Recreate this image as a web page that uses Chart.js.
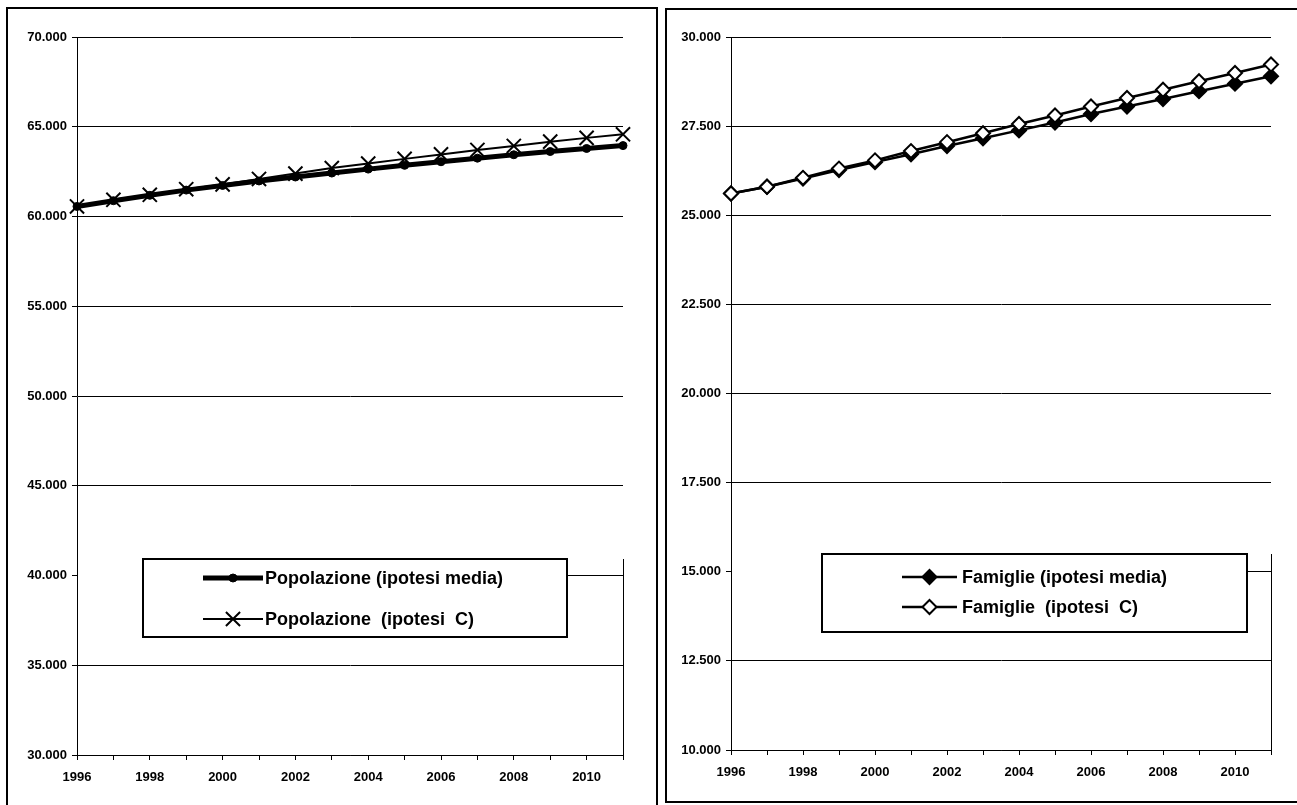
<!DOCTYPE html>
<html>
<head>
<meta charset="utf-8">
<script src="https://cdn.jsdelivr.net/npm/chart.js@4.4.1/dist/chart.umd.min.js"></script>
<style>
  body { margin: 0; background: #fff; overflow: hidden; }
  .panel { position: absolute; border: 2px solid #000; background: #fff; }
  #p1 { left: 6px; top: 7px; width: 648px; height: 800px; }
  #p2 { left: 665px; top: 8px; width: 640px; height: 791px; }
  canvas { display: block; }
</style>
</head>
<body>
<div class="panel" id="p1"><canvas id="c1" width="648" height="796"></canvas></div>
<div class="panel" id="p2"><canvas id="c2" width="630" height="791"></canvas></div>
<script>
// anni di proiezione
const years = ['1996','1997','1998','1999','2000','2001','2002','2003','2004','2005','2006','2007','2008','2009','2010','2011'];
const xTickLabels = ['1996','','1998','','2000','','2002','','2004','','2006','','2008','','2010',''];

// popolazione (migliaia)
const popLabelMedia = 'Popolazione (ipotesi media)';
const popLabelC = 'Popolazione  (ipotesi  C)';
const popMedia = [60560, 60880, 61180, 61470, 61730, 61980, 62200, 62420, 62640, 62850, 63050, 63250, 63440, 63620, 63790, 63950];
const popC = [60560, 60930, 61210, 61520, 61790, 62090, 62390, 62700, 62950, 63210, 63460, 63710, 63930, 64170, 64380, 64580];
const popMin = 30000, popMax = 70000, popStep = 5000;

// famiglie (migliaia)
const famLabelMedia = 'Famiglie (ipotesi media)';
const famLabelC = 'Famiglie  (ipotesi  C)';
const famMedia = [25610, 25800, 26030, 26270, 26490, 26710, 26940, 27160, 27380, 27600, 27840, 28050, 28260, 28480, 28690, 28900];
const famC = [25610, 25800, 26050, 26310, 26540, 26800, 27050, 27300, 27560, 27800, 28050, 28290, 28520, 28760, 28990, 29230];
const famMin = 10000, famMax = 30000, famStep = 2500;

Chart.defaults.font.family = 'Arial, "Liberation Sans", sans-serif';
Chart.defaults.color = '#000';

function fmt(v) {
  return String(v).replace(/\B(?=(\d{3})+(?!\d))/g, '.');
}

// legenda dentro il grafico, con riquadro bianco
const boxLegend = {
  id: 'boxLegend',
  afterDatasetsDraw(chart, args, opts) {
    const ctx = chart.ctx;
    const a = chart.chartArea;
    const b = opts.box;
    ctx.save();
    // nasconde la griglia a sinistra del riquadro
    ctx.fillStyle = '#fff';
    ctx.fillRect(a.left + 1, b.y, b.x - a.left - 1, b.h);
    // bordo destro dell'area del grafico
    ctx.strokeStyle = '#000';
    ctx.lineWidth = 1;
    ctx.beginPath();
    ctx.moveTo(Math.round(a.right) + 0.5, b.y);
    ctx.lineTo(Math.round(a.right) + 0.5, a.bottom);
    ctx.stroke();
    // riquadro
    ctx.fillStyle = '#fff';
    ctx.fillRect(b.x, b.y, b.w, b.h);
    ctx.lineWidth = 2;
    ctx.strokeRect(b.x, b.y, b.w, b.h);

    opts.rows.forEach((row, i) => {
      const ds = chart.data.datasets[i];
      ctx.strokeStyle = '#000';
      ctx.lineWidth = ds.borderWidth;
      ctx.beginPath();
      ctx.moveTo(opts.lineX1, row);
      ctx.lineTo(opts.lineX2, row);
      ctx.stroke();
      ctx.fillStyle = ds.pointBackgroundColor;
      ctx.strokeStyle = '#000';
      ctx.lineWidth = ds.pointBorderWidth;
      Chart.helpers.drawPoint(ctx, {
        pointStyle: ds.pointStyle, rotation: 0,
        radius: ds.pointRadius, borderWidth: ds.pointBorderWidth
      }, (opts.lineX1 + opts.lineX2) / 2, row);
      ctx.fillStyle = '#000';
      ctx.font = 'bold 18px Arial, "Liberation Sans", sans-serif';
      ctx.textAlign = 'left';
      ctx.textBaseline = 'middle';
      ctx.fillText(ds.label, opts.textX, row + 1);
    });
    ctx.restore();
  }
};

function makeScales(min, max, step, yWidth, xHeight) {
  return {
    x: {
      type: 'category',
      offset: false,
      grid: { offset: false, drawOnChartArea: false, color: '#000', tickLength: 5 },
      border: { display: true, color: '#000', width: 1 },
      ticks: {
        autoSkip: false, maxRotation: 0, padding: 10,
        font: { size: 13, weight: 'bold' },
        callback: (v, i) => xTickLabels[i]
      },
      afterFit: s => { s.height = xHeight; }
    },
    y: {
      min: min, max: max,
      grid: { color: '#000', tickLength: 5 },
      border: { display: true, color: '#000', width: 1 },
      ticks: {
        stepSize: step, padding: 5,
        font: { size: 13, weight: 'bold' },
        callback: v => fmt(v)
      },
      afterFit: s => { s.width = yWidth; }
    }
  };
}

new Chart(document.getElementById('c1'), {
  type: 'line',
  data: {
    labels: years,
    datasets: [
      {
        label: popLabelMedia, data: popMedia, order: 1, clip: false,
        borderColor: '#000', borderWidth: 5,
        pointStyle: 'circle', pointRadius: 4, pointBorderWidth: 1,
        pointBackgroundColor: '#000', pointBorderColor: '#000'
      },
      {
        label: popLabelC, data: popC, order: 0, clip: false,
        borderColor: '#000', borderWidth: 2,
        pointStyle: 'crossRot', pointRadius: 10, pointBorderWidth: 2,
        pointBackgroundColor: '#000', pointBorderColor: '#000'
      }
    ]
  },
  options: {
    responsive: false, animation: false,
    layout: { padding: { left: 0, top: 28, right: 33, bottom: 0 } },
    scales: makeScales(popMin, popMax, popStep, 69, 50),
    plugins: {
      legend: { display: false },
      tooltip: { enabled: false },
      boxLegend: {
        box: { x: 135, y: 550, w: 424, h: 78 },
        rows: [569, 610],
        lineX1: 195, lineX2: 255, textX: 257
      }
    }
  },
  plugins: [boxLegend]
});

new Chart(document.getElementById('c2'), {
  type: 'line',
  data: {
    labels: years,
    datasets: [
      {
        label: famLabelMedia, data: famMedia, order: 1, clip: false,
        borderColor: '#000', borderWidth: 2.5,
        pointStyle: 'rectRot', pointRadius: 7, pointBorderWidth: 2,
        pointBackgroundColor: '#000', pointBorderColor: '#000'
      },
      {
        label: famLabelC, data: famC, order: 0, clip: false,
        borderColor: '#000', borderWidth: 2.5,
        pointStyle: 'rectRot', pointRadius: 7, pointBorderWidth: 2,
        pointBackgroundColor: '#fff', pointBorderColor: '#000'
      }
    ]
  },
  options: {
    responsive: false, animation: false,
    layout: { padding: { left: 0, top: 27, right: 26, bottom: 0 } },
    scales: makeScales(famMin, famMax, famStep, 64, 51),
    plugins: {
      legend: { display: false },
      tooltip: { enabled: false },
      boxLegend: {
        box: { x: 155, y: 544, w: 425, h: 78 },
        rows: [567, 597],
        lineX1: 235, lineX2: 290, textX: 295
      }
    }
  },
  plugins: [boxLegend]
});
</script>
</body>
</html>
